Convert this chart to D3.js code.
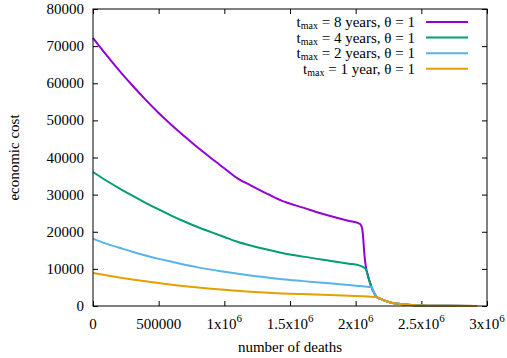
<!DOCTYPE html>
<html lang="en">
    <head>
        <meta charset="utf-8">
        <title>Economic cost vs deaths</title>
        <style>
            body { margin: 0; background: #fff; }
            svg text { font-family: "Liberation Serif", "DejaVu Serif", serif; fill: #000; }
        </style>
    </head>
    <body>
        <div id="chart"></div>
        <script src="https://cdn.jsdelivr.net/npm/d3@7"></script>
        <script>
            // shared tail once all runs collapse onto the same curve
            const tailX = [2090000, 2100000, 2110000, 2120000, 2140000, 2160000, 2190000, 2210000, 2240000, 2280000, 2360000, 2450000, 2550000, 2700000, 2920000];
            const tailY = [8600, 7300, 6200, 5100, 3600, 2400, 1900, 1600, 1200, 800, 450, 220, 100, 40, 10];

            const x8 = [0, 100000, 200000, 300000, 400000, 500000, 600000, 700000, 800000, 900000, 1000000, 1100000, 1200000, 1300000, 1440000, 1600000, 1800000, 1950000, 2020000, 2040000, 2050000, 2058000, 2065000, 2072000, 2080000];
            const y8 = [72200, 67700, 63400, 59400, 55600, 52000, 48700, 45600, 42600, 39800, 37100, 34400, 32500, 30700, 28300, 26500, 24300, 22900, 22300, 21800, 20800, 18000, 14500, 12000, 10000];

            const x4 = [0, 100000, 200000, 300000, 400000, 500000, 600000, 700000, 800000, 900000, 1000000, 1100000, 1200000, 1300000, 1440000, 1600000, 1800000, 1950000, 2020000, 2050000, 2065000, 2080000];
            const y4 = [36100, 33800, 31700, 29700, 27800, 26000, 24300, 22700, 21200, 19900, 18600, 17300, 16300, 15400, 14300, 13300, 12200, 11400, 11000, 10600, 10300, 9900];

            const x2 = [0, 100000, 200000, 300000, 400000, 500000, 600000, 700000, 800000, 900000, 1000000, 1100000, 1200000, 1300000, 1440000, 1600000, 1800000, 1950000, 2050000, 2100000];
            const y2 = [18100, 16800, 15700, 14600, 13600, 12700, 11900, 11100, 10400, 9800, 9200, 8700, 8200, 7800, 7200, 6700, 6100, 5650, 5350, 5150];

            const x1 = [0, 100000, 200000, 300000, 400000, 500000, 600000, 700000, 800000, 900000, 1000000, 1100000, 1200000, 1300000, 1440000, 1600000, 1800000, 1950000, 2050000, 2110000];
            const y1 = [8900, 8300, 7700, 7150, 6650, 6200, 5750, 5350, 5000, 4650, 4350, 4100, 3850, 3650, 3400, 3200, 2950, 2750, 2600, 2500];

            const seriesNames = ["8 years", "4 years", "2 years", "1 year"];
            const seriesColors = ["#9400d3", "#009e73", "#56b4e9", "#e69f00"];
            const xTicks = [0, 500000, 1000000, 1500000, 2000000, 2500000, 3000000];
            const yTicks = [0, 10000, 20000, 30000, 40000, 50000, 60000, 70000, 80000];

            function build(xs, ys, from) {
                const pts = xs.map((v, i) => [v, ys[i]]);
                tailX.forEach((v, i) => { if (v >= from) pts.push([v, tailY[i]]); });
                return pts;
            }
            // the 2- and 1-year runs join the tail further down
            const series = [
                build(x8, y8, 2090000),
                build(x4, y4, 2090000),
                build(x2, y2, 2120000),
                build(x1, y1, 2160000)
            ];

            const W = 507, H = 358;
            const m = {left: 93, right: 20, top: 9, bottom: 52};
            const iw = W - m.left - m.right, ih = H - m.top - m.bottom;

            const svg = d3.select("#chart").append("svg")
                .attr("width", W).attr("height", H);
            const g = svg.append("g").attr("transform", `translate(${m.left},${m.top})`);

            const x = d3.scaleLinear().domain([0, 3000000]).range([0, iw]);
            const y = d3.scaleLinear().domain([0, 80000]).range([ih, 0]);

            // ticks on all four sides, pointing inwards
            const tl = 5;
            g.append("g").attr("transform", `translate(0,${ih})`)
                .call(d3.axisBottom(x).tickValues(xTicks).tickSize(-tl).tickFormat(""))
                .call(a => a.select(".domain").remove());
            g.append("g")
                .call(d3.axisTop(x).tickValues(xTicks).tickSize(-tl).tickFormat(""))
                .call(a => a.select(".domain").remove());
            g.append("g")
                .call(d3.axisLeft(y).tickValues(yTicks).tickSize(-tl).tickFormat(""))
                .call(a => a.select(".domain").remove());
            g.append("g").attr("transform", `translate(${iw},0)`)
                .call(d3.axisRight(y).tickValues(yTicks).tickSize(-tl).tickFormat(""))
                .call(a => a.select(".domain").remove());
            g.selectAll(".tick line").attr("stroke", "#000").attr("stroke-width", 1);

            // x tick labels, with 10^6 superscripts
            xTicks.forEach(v => {
                const t = g.append("text").attr("x", x(v)).attr("y", ih + 23)
                    .attr("text-anchor", "middle").attr("font-size", 15);
                if (v === 0 || v === 500000) {
                    t.text(v);
                } else {
                    t.append("tspan").text((v / 1e6) + "x10");
                    t.append("tspan").attr("dy", -7).attr("font-size", 11).text("6");
                }
            });
            yTicks.forEach(v => {
                g.append("text").attr("x", -9).attr("y", y(v) + 5)
                    .attr("text-anchor", "end").attr("font-size", 15).text(v);
            });

            const line = d3.line().curve(d3.curveMonotoneX)
                .x(d => x(d[0])).y(d => y(d[1]));
            series.forEach((s, i) => {
                g.append("path").datum(s)
                    .attr("fill", "none")
                    .attr("stroke", seriesColors[i])
                    .attr("stroke-width", 2)
                    .attr("stroke-linejoin", "round")
                    .attr("d", line);
            });

            g.append("rect").attr("width", iw).attr("height", ih)
                .attr("fill", "none").attr("stroke", "#000").attr("stroke-width", 1);

            // legend
            seriesNames.forEach((n, i) => {
                const cy = 22 + i * 15.6;
                const t = svg.append("text").attr("x", 415).attr("y", cy + 5)
                    .attr("text-anchor", "end").attr("font-size", 15);
                t.append("tspan").text("t");
                t.append("tspan").attr("dy", 2).attr("font-size", 10).text("max");
                t.append("tspan").attr("dy", -2).text(` = ${n}, θ = 1`);
                svg.append("line").attr("x1", 426).attr("x2", 468)
                    .attr("y1", cy).attr("y2", cy)
                    .attr("stroke", seriesColors[i]).attr("stroke-width", 2);
            });

            svg.append("text").attr("x", m.left + iw / 2).attr("y", 352)
                .attr("text-anchor", "middle").attr("font-size", 15).text("number of deaths");
            svg.append("text").attr("transform", `translate(19,${m.top + ih / 2}) rotate(-90)`)
                .attr("text-anchor", "middle").attr("font-size", 15).text("economic cost");
        </script>
    </body>
</html>
